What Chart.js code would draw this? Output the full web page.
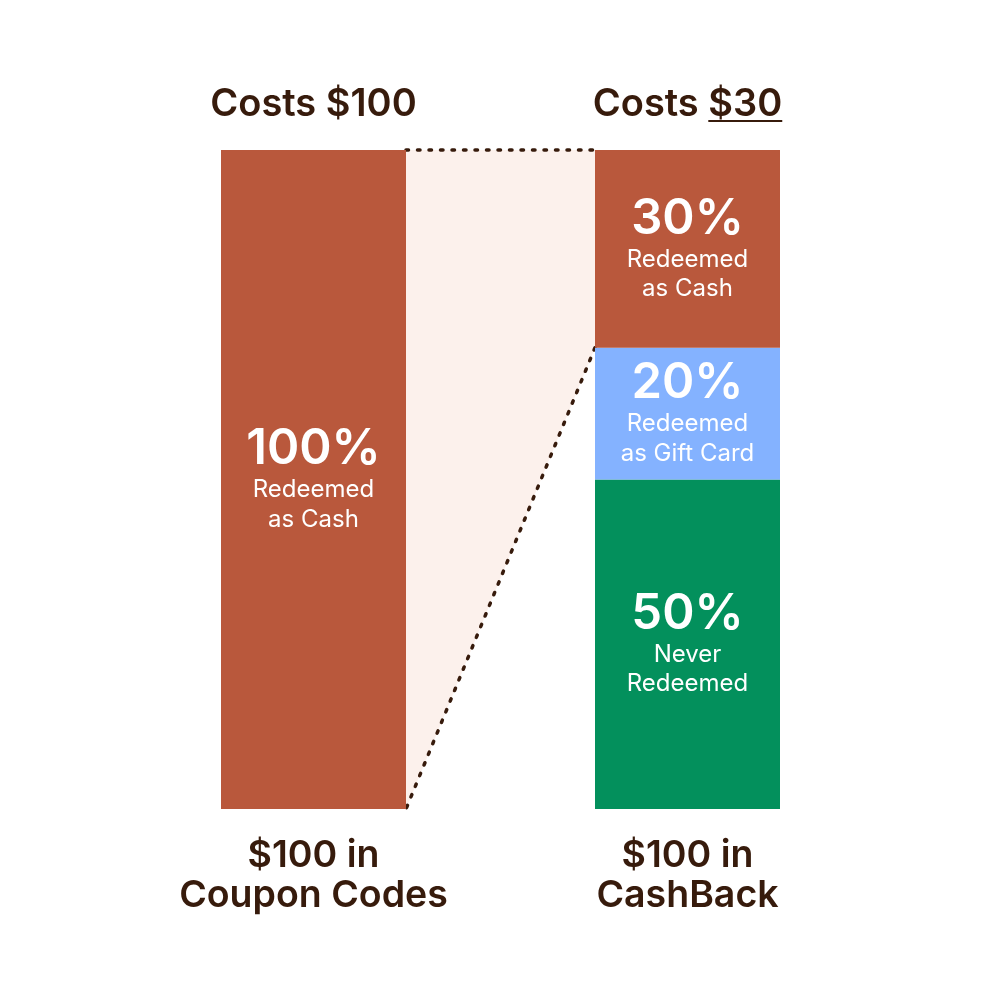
<!DOCTYPE html>
<html>
<head>
<meta charset="utf-8">
<title>Coupon codes vs CashBack</title>
<script src="https://cdn.jsdelivr.net/npm/chart.js@4"></script>
<style>
html, body { margin: 0; padding: 0; background: #fff; }
#wrap { width: 1000px; height: 1000px; }
</style>
</head>
<body>
<div id="wrap"><canvas id="costChart" width="1000" height="1000"></canvas></div>
<script>
const categories = ['Coupon Codes', 'CashBack'];
const cashValues = [100, 30];
const giftValues = [0, 20];
const neverValues = [0, 50];

const costLabels = ['Costs $100', 'Costs $30'];
const bottomLabels = [['$100 in', 'Coupon Codes'], ['$100 in', 'CashBack']];
const cashText = [['100%', 'Redeemed', 'as Cash'], ['30%', 'Redeemed', 'as Cash']];
const giftText = [null, ['20%', 'Redeemed', 'as Gift Card']];
const neverText = [null, ['50%', 'Never', 'Redeemed']];

const brown = '#b9583c';
const blue = '#84b2ff';
const green = '#03905c';
const dark = '#371b0c';
const font = 'Inter, "Open Sans", sans-serif';

// shaded wedge between the two bars, behind them
const wedge = {
    id: 'wedge',
    beforeDatasetsDraw(chart) {
        const bars = chart.getDatasetMeta(0).data;
        const y = chart.scales.y;
        const left = bars[0].x + bars[0].width / 2;
        const right = bars[1].x - bars[1].width / 2;
        const top = y.getPixelForValue(0);
        const bottom = y.getPixelForValue(100);
        const mid = y.getPixelForValue(cashValues[1]);
        const c = chart.ctx;
        c.save();
        c.fillStyle = '#fcf1ec';
        c.beginPath();
        c.moveTo(left, top);
        c.lineTo(right, top);
        c.lineTo(right, mid);
        c.lineTo(left, bottom);
        c.closePath();
        c.fill();
        c.strokeStyle = dark;
        c.lineWidth = 3.5;
        c.lineCap = 'round';
        c.setLineDash([2.5, 9]);
        c.beginPath();
        c.moveTo(left, top);
        c.lineTo(right, top);
        c.stroke();
        c.beginPath();
        c.moveTo(right, mid);
        c.lineTo(left, bottom);
        c.stroke();
        c.restore();
    }
};

function drawBlock(c, x, yCentre, lines) {
    c.fillStyle = '#fff';
    c.font = '600 49px ' + font;
    c.fillText(lines[0], x, yCentre - 30);
    c.font = '400 24px ' + font;
    c.fillText(lines[1], x, yCentre + 10.5);
    c.fillText(lines[2], x, yCentre + 40);
}

const textLabels = {
    id: 'textLabels',
    afterDatasetsDraw(chart) {
        const c = chart.ctx;
        const x = chart.scales.x;
        const y = chart.scales.y;
        c.save();
        c.textAlign = 'center';
        c.textBaseline = 'middle';
        categories.forEach((cat, i) => {
            const cx = x.getPixelForValue(i);
            const blocks = [
                [cashText[i], 0, cashValues[i]],
                [giftText[i], cashValues[i], giftValues[i]],
                [neverText[i], cashValues[i] + giftValues[i], neverValues[i]]
            ];
            blocks.forEach(b => {
                if (!b[0]) return;
                drawBlock(c, cx, y.getPixelForValue(b[1] + b[2] / 2), b[0]);
            });
            c.fillStyle = dark;
            c.font = '600 38px ' + font;
            c.fillText(costLabels[i], cx, 104.5);
            c.font = '600 37.5px ' + font;
            c.fillText(bottomLabels[i][0], cx, 855.5);
            c.fillText(bottomLabels[i][1], cx, 895.5);
        });
        // $30 is underlined in the original
        c.font = '600 38px ' + font;
        const full = c.measureText(costLabels[1]).width;
        const part = c.measureText('$30').width;
        const end = x.getPixelForValue(1) + full / 2;
        c.strokeStyle = dark;
        c.lineWidth = 2;
        c.beginPath();
        c.moveTo(end - part, 121);
        c.lineTo(end, 121);
        c.stroke();
        c.restore();
    }
};

new Chart(document.getElementById('costChart').getContext('2d'), {
    type: 'bar',
    data: {
        labels: categories,
        datasets: [
            { label: 'Redeemed as Cash', data: cashValues, backgroundColor: brown },
            { label: 'Redeemed as Gift Card', data: giftValues, backgroundColor: blue },
            { label: 'Never Redeemed', data: neverValues, backgroundColor: green }
        ]
    },
    options: {
        responsive: false,
        animation: false,
        devicePixelRatio: 1,
        layout: { padding: { left: 126.5, right: 125.5, top: 150, bottom: 191 } },
        datasets: { bar: { barPercentage: 185 / 374, categoryPercentage: 1 } },
        scales: {
            x: { stacked: true, display: false },
            y: { stacked: true, display: false, reverse: true, min: 0, max: 100 }
        },
        plugins: { legend: { display: false }, tooltip: { enabled: false } }
    },
    plugins: [wedge, textLabels]
});
</script>
</body>
</html>
